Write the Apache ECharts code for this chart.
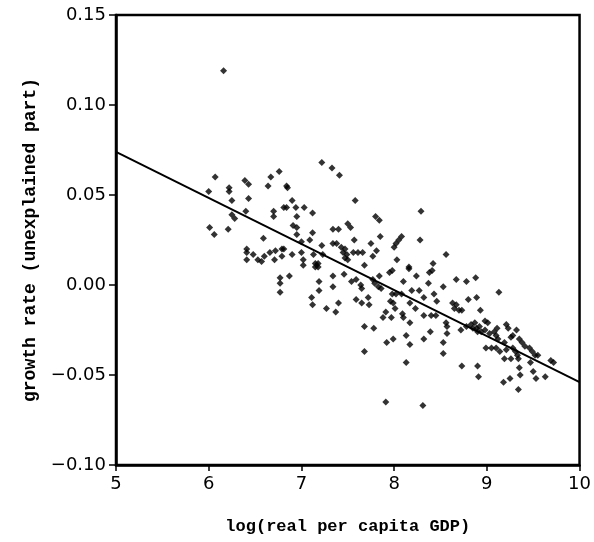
<!DOCTYPE html>
<html>
<head>
<meta charset="utf-8">
<script src="https://cdn.jsdelivr.net/npm/echarts@6/dist/echarts.min.js"></script>
<style>html,body{margin:0;padding:0;background:#fff}#c{width:594px;height:542px}</style>
</head>
<body>
<div id="c"></div>
<script>
var gdpLog = [
6.16,6.07,6.00,6.22,6.22,6.25,6.39,6.43,6.43,6.40,6.25,6.28,6.76,6.67,6.64,6.84,6.85,7.22,6.90,6.81,6.84,6.94,7.03,7.12,6.70,6.70,6.95,
6.01,6.06,6.21,6.59,6.91,6.95,6.95,7.12,7.09,7.00,7.22,6.41,6.41,6.48,6.41,6.53,6.57,6.60,6.66,6.72,6.79,6.81,6.71,6.79,6.90,7.00,7.02,7.02,7.13,7.15,7.18,7.15,7.18,7.23,6.77,6.77,6.87,6.77,7.19,7.19,7.11,7.12,
7.33,7.41,7.58,7.80,7.84,8.29,7.34,7.40,7.50,7.53,7.34,7.38,7.57,7.85,7.75,8.08,8.05,8.02,8.00,8.28,7.43,7.47,7.45,7.49,7.47,7.50,7.56,7.61,7.66,7.81,7.77,8.03,7.68,8.16,8.42,8.56,
7.46,7.34,7.34,7.54,7.59,7.64,7.65,7.77,7.79,7.83,7.86,7.84,7.95,7.98,8.16,8.24,8.38,8.41,8.10,8.37,8.53,8.19,8.27,7.98,8.02,8.08,8.32,8.43,7.59,7.65,7.72,7.73,7.96,7.99,8.01,8.17,8.23,8.46,7.27,7.37,7.40,7.91,7.88,7.97,8.09,8.10,8.17,8.32,8.40,8.45,8.56,8.57,7.68,7.78,8.13,8.39,8.32,7.99,7.92,8.17,8.57,8.53,8.53,7.68,8.13,7.91,8.31,
8.67,8.78,8.88,9.13,8.80,8.89,8.63,8.67,8.65,8.70,8.73,8.93,8.72,8.78,8.83,8.85,8.87,8.89,8.92,8.98,9.01,8.90,8.94,8.98,9.03,9.08,9.10,9.11,9.21,9.23,9.32,8.99,9.05,9.10,9.12,9.21,9.19,9.14,9.26,9.28,9.35,9.38,9.41,9.46,9.49,9.52,9.55,9.69,9.72,9.28,9.31,9.19,9.26,9.33,9.34,9.47,9.35,9.36,9.50,9.53,9.63,9.18,9.25,9.34,8.73,8.90,8.91
];
var growthResid = [
0.119,0.060,0.052,0.054,0.052,0.047,0.058,0.056,0.048,0.041,0.039,0.037,0.063,0.060,0.055,0.055,0.054,0.068,0.047,0.043,0.043,0.043,0.043,0.040,0.041,0.038,0.038,
0.032,0.028,0.031,0.026,0.033,0.032,0.028,0.029,0.025,0.024,0.022,0.020,0.018,0.017,0.014,0.014,0.013,0.016,0.018,0.019,0.020,0.020,0.014,0.016,0.017,0.018,0.014,0.011,0.017,0.012,0.012,0.010,0.010,0.017,0.004,0.001,0.005,-0.004,0.002,-0.003,-0.007,-0.011,
0.065,0.061,0.047,0.038,0.036,0.041,0.031,0.031,0.034,0.032,0.023,0.023,0.025,0.027,0.023,0.027,0.025,0.023,0.021,0.025,0.021,0.020,0.018,0.017,0.015,0.014,0.018,0.018,0.018,0.019,0.016,0.014,0.011,0.010,0.012,0.017,
0.006,0.005,-0.001,0.002,0.003,0.000,-0.002,0.003,0.001,-0.001,-0.002,0.005,0.007,0.008,0.009,0.005,0.007,0.008,0.002,0.001,-0.001,-0.003,-0.003,-0.005,-0.005,-0.005,-0.007,-0.005,-0.008,-0.010,-0.007,-0.011,-0.009,-0.010,-0.013,-0.010,-0.013,-0.009,-0.013,-0.015,-0.010,-0.015,-0.018,-0.018,-0.016,-0.018,-0.021,-0.017,-0.017,-0.017,-0.021,-0.023,-0.023,-0.024,-0.028,-0.026,-0.030,-0.030,-0.032,-0.033,-0.027,-0.032,-0.038,-0.037,-0.043,-0.065,-0.067,
0.003,0.002,0.004,-0.004,-0.008,-0.007,-0.010,-0.011,-0.013,-0.014,-0.014,-0.014,-0.025,-0.023,-0.022,-0.024,-0.021,-0.024,-0.023,-0.020,-0.021,-0.026,-0.026,-0.025,-0.027,-0.026,-0.028,-0.024,-0.022,-0.024,-0.025,-0.035,-0.035,-0.035,-0.030,-0.036,-0.032,-0.037,-0.029,-0.028,-0.030,-0.032,-0.034,-0.035,-0.037,-0.039,-0.039,-0.042,-0.043,-0.035,-0.037,-0.041,-0.041,-0.039,-0.041,-0.043,-0.046,-0.050,-0.048,-0.052,-0.051,-0.054,-0.052,-0.058,-0.045,-0.045,-0.051
];
var fitX = [5, 10];
var fitY = [0.074, -0.054];
var xTitle = 'log(real per capita GDP)';
var yTitle = 'growth rate (unexplained part)';

var scatterData = gdpLog.map(function (x, i) { return [x, growthResid[i]]; });
var lineData = fitX.map(function (x, i) { return [x, fitY[i]]; });

var chart = echarts.init(document.getElementById('c'), null, {renderer: 'canvas'});
chart.setOption({
  animation: false,
  backgroundColor: '#fff',
  grid: {left: 116, right: 13, top: 15, bottom: 77, show: true, borderColor: '#000', borderWidth: 2.5, backgroundColor: 'transparent'},
  xAxis: {
    type: 'value', min: 5, max: 10, interval: 1,
    name: xTitle, nameLocation: 'middle', nameGap: 53,
    nameTextStyle: {fontFamily: 'Liberation Mono', fontWeight: 'bold', fontSize: 17, color: '#000'},
    axisLine: {show: true, onZero: false, lineStyle: {color: '#000', width: 2.5}},
    axisTick: {show: true, inside: false, length: 6, lineStyle: {color: '#000', width: 1.5}},
    axisLabel: {color: '#000', fontFamily: 'DejaVu Sans', fontSize: 18, margin: 10},
    splitLine: {show: false}
  },
  yAxis: {
    type: 'value', min: -0.1, max: 0.15, interval: 0.05,
    name: yTitle, nameLocation: 'middle', nameGap: 77, nameRotate: 90,
    nameTextStyle: {fontFamily: 'Liberation Mono', fontWeight: 'bold', fontSize: 18, color: '#000'},
    axisLine: {show: true, onZero: false, lineStyle: {color: '#000', width: 2.5}},
    axisTick: {show: true, inside: false, length: 7, lineStyle: {color: '#000', width: 1.5}},
    axisLabel: {color: '#000', fontFamily: 'DejaVu Sans', fontSize: 18, margin: 10,
      formatter: function (v) {
        if (Math.abs(v) < 1e-9) return '0.00';
        var s = Math.abs(v).toFixed(2);
        return (v < 0 ? '\u2212' : '') + s;
      }},
    splitLine: {show: false}
  },
  series: [
    {type: 'scatter', data: scatterData, symbol: 'diamond', symbolSize: 7,
     itemStyle: {color: '#000'}, silent: true, z: 3},
    {type: 'line', data: lineData, symbol: 'none', silent: true,
     lineStyle: {color: '#000', width: 2}, z: 2}
  ]
});
</script>
</body>
</html>
